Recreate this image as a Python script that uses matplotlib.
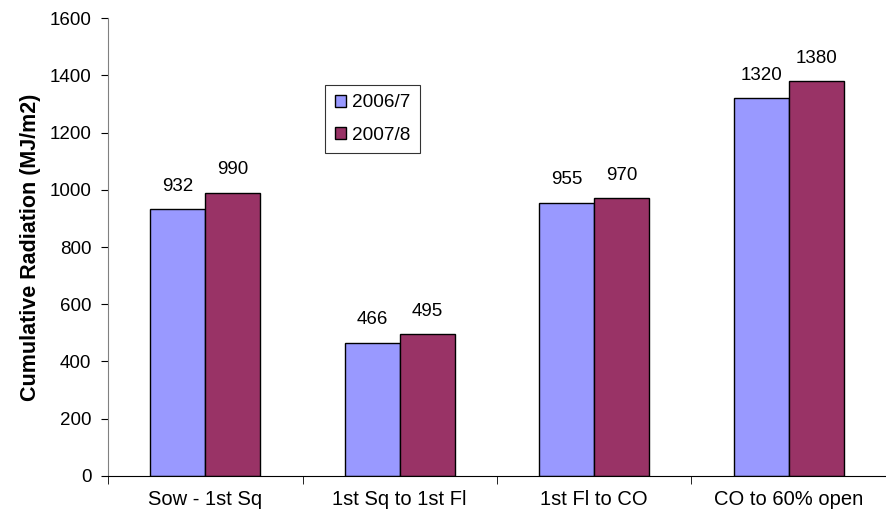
import matplotlib.pyplot as plt
import numpy as np

plt.rcParams['font.family'] = ['Liberation Sans', 'DejaVu Sans']

stages = ['Sow - 1st Sq', '1st Sq to 1st Fl', '1st Fl to CO', 'CO to 60% open']
season_1 = [932, 466, 955, 1320]
season_2 = [990, 495, 970, 1380]
season_labels = ['2006/7', '2007/8']

fig = plt.figure(figsize=(8.87, 5.21), dpi=100)
ax = fig.add_axes([0.1218, 0.0864, 0.877, 0.879])

x = np.arange(len(stages))
w = 0.283
b1 = ax.bar(x - w / 2, season_1, w, color='#9999FF', edgecolor='black', linewidth=1, label=season_labels[0])
b2 = ax.bar(x + w / 2, season_2, w, color='#993366', edgecolor='black', linewidth=1, label=season_labels[1])

# value labels above each bar
for bars, vals in [(b1, season_1), (b2, season_2)]:
    for bar, v in zip(bars, vals):
        ax.text(bar.get_x() + bar.get_width() / 2, v + 50, str(v),
                ha='center', va='bottom', fontsize=13.5)

ax.set_xlim(-0.5, len(stages) - 0.5)
ax.set_ylim(0, 1600)
ax.set_yticks(range(0, 1601, 200))
ax.set_xticks(x)
ax.set_xticklabels(stages, fontsize=14.5)
ax.set_xticks(np.arange(-0.5, len(stages)), minor=True)
ax.tick_params(axis='x', which='major', length=0, pad=10)
ax.tick_params(axis='x', which='minor', length=6, direction='out')
ax.tick_params(axis='y', labelsize=13.5, length=5, direction='out', pad=7)
ax.set_ylabel('Cumulative Radiation (MJ/m2)', fontsize=15.5, fontweight='bold', labelpad=6)

for s in ['top', 'right']:
    ax.spines[s].set_visible(False)
ax.spines['left'].set_color('#808080')
ax.spines['bottom'].set_color('black')

leg = ax.legend(loc='upper left', bbox_to_anchor=(0.279, 0.854), fontsize=13.7,
                frameon=True, fancybox=False, edgecolor='black',
                handlelength=0.6, handleheight=0.6, handletextpad=0.3,
                labelspacing=0.8, borderpad=0.5, borderaxespad=0)
leg.get_frame().set_linewidth(0.8)

fig.savefig('out.png', dpi=100)
